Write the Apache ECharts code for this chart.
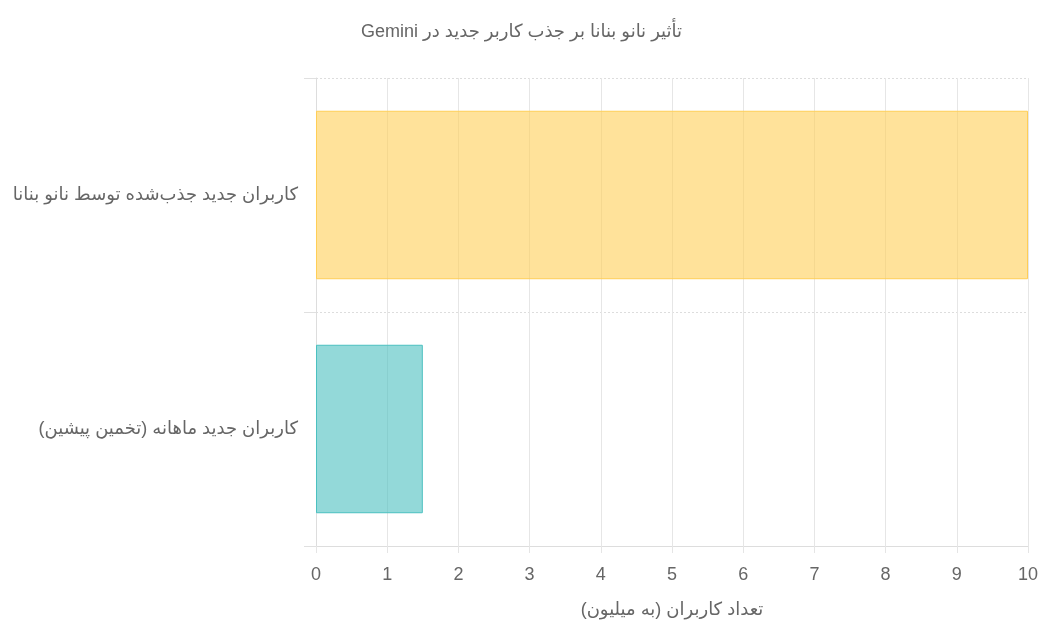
<!DOCTYPE html>
<html dir="rtl"><head><meta charset="utf-8">
<script src="https://cdn.jsdelivr.net/npm/echarts@6/dist/echarts.min.js"></script>
<style>html,body{margin:0;padding:0;background:#fff}#c{width:1043px;height:627px;direction:rtl}</style>
</head><body><div id="c" dir="rtl"></div>
<script>
var titleText = 'تأثیر نانو بنانا بر جذب کاربر جدید در Gemini';
var categories = ['کاربران جدید جذب‌شده توسط نانو بنانا', 'کاربران جدید ماهانه (تخمین پیشین)'];
var values = [10, 1.5];
var xName = 'تعداد کاربران (به میلیون)';
var fills = ['rgba(255,206,86,0.6)', 'rgba(75,192,192,0.6)'];
var borders = ['rgba(255,206,86,1)', 'rgba(75,192,192,1)'];
var font = '"Liberation Sans", "DejaVu Sans", sans-serif';
var chart = echarts.init(document.getElementById('c'));
chart.setOption({
  animation: false,
  title: { text: titleText, left: 'center', top: 18, textStyle: { fontSize: 18, fontWeight: 'normal', color: '#666', fontFamily: font } },
  grid: { left: 316, right: 15, top: 78, bottom: 81 },
  xAxis: {
    type: 'value', min: 0, max: 10, interval: 1,
    name: xName, nameLocation: 'middle', nameGap: 55,
    nameTextStyle: { fontSize: 18, color: '#666', fontFamily: font },
    axisLabel: { fontSize: 18, color: '#666', margin: 20, fontFamily: font },
    axisLine: { show: true, lineStyle: { color: '#ddd' } },
    axisTick: { show: true, length: 7, lineStyle: { color: '#e5e5e5' } },
    splitLine: { show: true, lineStyle: { color: '#e6e6e6', width: 1 } }
  },
  yAxis: {
    type: 'category', data: categories, inverse: true,
    axisLabel: { fontSize: 18, color: '#666', margin: 18, fontFamily: font },
    axisLine: { show: true, lineStyle: { color: '#ddd' } },
    axisTick: { show: true, length: 12, lineStyle: { color: '#e0e0e0' } },
    splitLine: { show: true, lineStyle: { color: '#ddd', type: [2, 2] } }
  },
  series: [{
    type: 'bar', barCategoryGap: '28%',
    data: values.map(function (v, i) {
      return { value: v, itemStyle: { color: fills[i], borderColor: borders[i], borderWidth: 1 } };
    })
  }]
});
</script></body></html>
